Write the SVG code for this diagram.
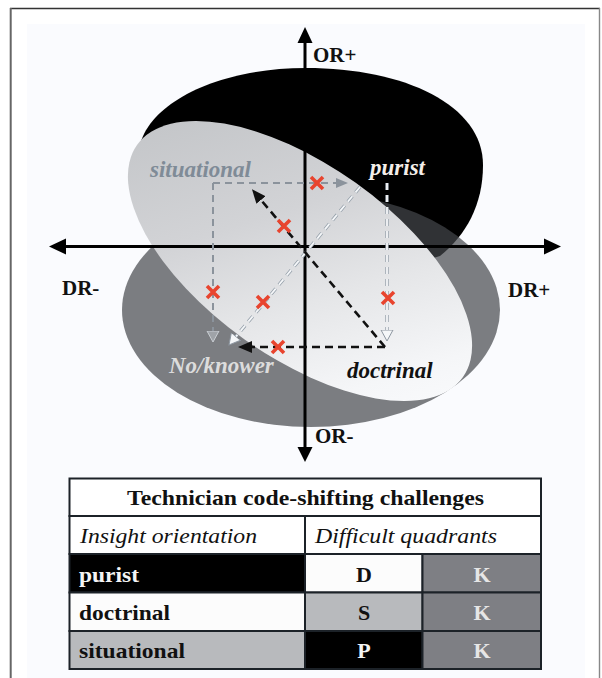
<svg xmlns="http://www.w3.org/2000/svg" width="602" height="678" viewBox="0 0 602 678">
  <defs>
    <style>
      .axis { stroke: #000; stroke-width: 3; fill: none; }
      .axlbl { font-family: "Liberation Serif", "Times New Roman", serif; font-weight: bold; font-size: 21px; fill: #111; }
      .qlbl { font-family: "Liberation Serif", "Times New Roman", serif; font-weight: bold; font-style: italic; font-size: 23px; }
      .dash-black { stroke: #111; stroke-width: 2.6; stroke-dasharray: 8 5; fill: none; }
      .dash-gray { stroke: #8b939c; stroke-width: 2; stroke-dasharray: 7 5; fill: none; }
      .dash-white-under { stroke: #97a1ab; stroke-width: 3.4; stroke-dasharray: 7 5; fill: none; }
      .dash-white { stroke: #f5f7f9; stroke-width: 1.8; stroke-dasharray: 7 5; fill: none; }
      .xmark { stroke: #e8442e; stroke-width: 3.6; stroke-linecap: butt; fill: none; }
      .cell { stroke: #1c2228; stroke-width: 2; }
      .tb { font-family: "Liberation Serif", "Times New Roman", serif; font-weight: bold; font-size: 22px; }
      .ti { font-family: "Liberation Serif", "Times New Roman", serif; font-style: italic; font-size: 22px; fill: #111; }
    </style>
    <linearGradient id="lightFill" gradientUnits="userSpaceOnUse" x1="150" y1="150" x2="455" y2="380">
      <stop offset="0" stop-color="#c3c5c8"/>
      <stop offset="0.35" stop-color="#d2d3d6"/>
      <stop offset="0.6" stop-color="#e5e6e8"/>
      <stop offset="0.85" stop-color="#f5f6f8"/>
      <stop offset="1" stop-color="#fafbfd"/>
    </linearGradient>
    <marker id="ah-black" markerUnits="userSpaceOnUse" markerWidth="16" markerHeight="14" refX="0" refY="6.5" orient="auto">
      <path d="M0,0.5 L14,6.5 L0,12.5 Z" fill="#111"/>
    </marker>
    <marker id="ah-gray" markerUnits="userSpaceOnUse" markerWidth="14" markerHeight="12" refX="0" refY="5.5" orient="auto">
      <path d="M0,0.5 L12,5.5 L0,10.5 Z" fill="#8b939c"/>
    </marker>
    <marker id="ah-white" markerUnits="userSpaceOnUse" markerWidth="14" markerHeight="16" refX="0" refY="7" orient="auto">
      <path d="M0,1 L11,7 L0,13 Z" fill="#f5f7f9" stroke="#8d96a0" stroke-width="1"/>
    </marker>
    <marker id="ah-faint" markerUnits="userSpaceOnUse" markerWidth="14" markerHeight="16" refX="0" refY="7" orient="auto">
      <path d="M0,1 L11,7 L0,13 Z" fill="#9fa3a8" stroke="#c9ced3" stroke-width="1"/>
    </marker>
    <path id="x" class="xmark" d="M-6,-6 L6,6 M6,-6 L-6,6"/>
  </defs>

  <!-- page frame -->
  <g id="frame">
    <rect x="0" y="0" width="602" height="678" fill="#ffffff"/>
    <rect x="27" y="24" width="558" height="654" fill="#fafbfe"/>
    <line x1="10" y1="8.5" x2="600" y2="8.5" stroke="#333" stroke-width="1.4"/>
    <line x1="10.7" y1="8" x2="10.7" y2="678" stroke="#666" stroke-width="2"/>
    <line x1="599.5" y1="8" x2="599.5" y2="678" stroke="#888" stroke-width="1.4"/>
  </g>

  <!-- orientation regions -->
  <g id="regions">
    <path id="region-purist" d="M139,150 C145,105 215,68 306,68 C405,68 483,105 483,165 C483,205 466,235 440,256 L420,262 L200,250 Z" fill="#000"/>
    <ellipse id="region-knower" cx="311" cy="310" rx="189" ry="117" fill="#45474c" fill-opacity="0.7"/>
    <ellipse id="region-lens" cx="300" cy="261" rx="200" ry="96" transform="rotate(35.5 300 261)" fill="url(#lightFill)"/>
  </g>

  <!-- axes -->
  <g id="axes">
    <line class="axis" x1="64" y1="246.5" x2="546" y2="246.5"/>
    <line class="axis" x1="305" y1="41" x2="305" y2="449"/>
    <polygon points="49,246.5 66,238.5 66,254.5" fill="#000"/>
    <polygon points="561,246.5 544,238.5 544,254.5" fill="#000"/>
    <polygon points="305,27 297.5,43 312.5,43" fill="#000"/>
    <polygon points="305,462 297.5,447 312.5,447" fill="#000"/>
    <text class="axlbl" x="313" y="62">OR+</text>
    <text class="axlbl" x="62" y="295">DR-</text>
    <text class="axlbl" x="508" y="297">DR+</text>
    <text class="axlbl" x="315" y="443">OR-</text>
  </g>

  <!-- shifts between orientations -->
  <g id="connectors">
    <path class="dash-gray" d="M213,183 H336" marker-end="url(#ah-gray)"/>
    <path class="dash-gray" d="M213,183 V331" marker-end="url(#ah-faint)"/>
    <path class="dash-white-under" d="M360,187 L236,336.5"/>
    <path class="dash-white" d="M360,187 L236,336.5" marker-end="url(#ah-white)"/>
    <path class="dash-white-under" d="M387,183 V330"/>
    <path class="dash-white" d="M387,183 V330" marker-end="url(#ah-white)"/>
    <path class="dash-black" d="M385,347 L261,200" marker-end="url(#ah-black)"/>
    <path class="dash-black" d="M385,347 H252" marker-end="url(#ah-black)"/>
  </g>

  <!-- challenge marks -->
  <g id="marks">
    <use href="#x" x="317" y="183"/>
    <use href="#x" x="284" y="226"/>
    <use href="#x" x="213" y="292"/>
    <use href="#x" x="263" y="302"/>
    <use href="#x" x="388" y="298"/>
    <use href="#x" x="278" y="347"/>
  </g>

  <g id="node-situational"><text class="qlbl" x="150" y="177" fill="#7f8b97">situational</text></g>
  <g id="node-purist"><text class="qlbl" x="370" y="175" fill="#f4eee9">purist</text></g>
  <g id="node-noknower"><text class="qlbl" x="169" y="373" fill="#dcdcdc">No/knower</text></g>
  <g id="node-doctrinal"><text class="qlbl" x="347" y="378" fill="#111">doctrinal</text></g>

  <!-- challenges table -->
  <g id="table">
    <rect class="cell" x="69.5" y="478.5" width="471.5" height="37.5" fill="#ffffff"/>
    <rect class="cell" x="69.5" y="516" width="235.5" height="38" fill="#ffffff"/>
    <rect class="cell" x="305" y="516" width="236" height="38" fill="#ffffff"/>
    <rect class="cell" x="69.5" y="554" width="235.5" height="38.5" fill="#000000"/>
    <rect class="cell" x="305" y="554" width="117.5" height="38.5" fill="#fcfcfc"/>
    <rect class="cell" x="422.5" y="554" width="118.5" height="38.5" fill="#7e7f84"/>
    <rect class="cell" x="69.5" y="592.5" width="235.5" height="38.5" fill="#fcfcfc"/>
    <rect class="cell" x="305" y="592.5" width="117.5" height="38.5" fill="#b8babd"/>
    <rect class="cell" x="422.5" y="592.5" width="118.5" height="38.5" fill="#7e7f84"/>
    <rect class="cell" x="69.5" y="631" width="235.5" height="38" fill="#b8babd"/>
    <rect class="cell" x="305" y="631" width="117.5" height="38" fill="#000000"/>
    <rect class="cell" x="422.5" y="631" width="118.5" height="38" fill="#7e7f84"/>

    <text class="tb" x="305.5" y="505" text-anchor="middle" fill="#111" textLength="357" lengthAdjust="spacingAndGlyphs">Technician code-shifting challenges</text>
    <text class="ti" x="80" y="543" textLength="177" lengthAdjust="spacingAndGlyphs">Insight orientation</text>
    <text class="ti" x="315" y="543" textLength="182" lengthAdjust="spacingAndGlyphs">Difficult quadrants</text>
    <text class="tb" x="79" y="582" fill="#f4f4f4" textLength="60" lengthAdjust="spacingAndGlyphs">purist</text>
    <text class="tb" x="364" y="582" text-anchor="middle" fill="#111">D</text>
    <text class="tb" x="482" y="582" text-anchor="middle" fill="#e6e6e6">K</text>
    <text class="tb" x="79" y="620" fill="#111" textLength="91" lengthAdjust="spacingAndGlyphs">doctrinal</text>
    <text class="tb" x="364" y="620" text-anchor="middle" fill="#111">S</text>
    <text class="tb" x="482" y="620" text-anchor="middle" fill="#e6e6e6">K</text>
    <text class="tb" x="79" y="658" fill="#111" textLength="106" lengthAdjust="spacingAndGlyphs">situational</text>
    <text class="tb" x="364" y="658" text-anchor="middle" fill="#f4f4f4">P</text>
    <text class="tb" x="482" y="658" text-anchor="middle" fill="#e6e6e6">K</text>
  </g>
</svg>
